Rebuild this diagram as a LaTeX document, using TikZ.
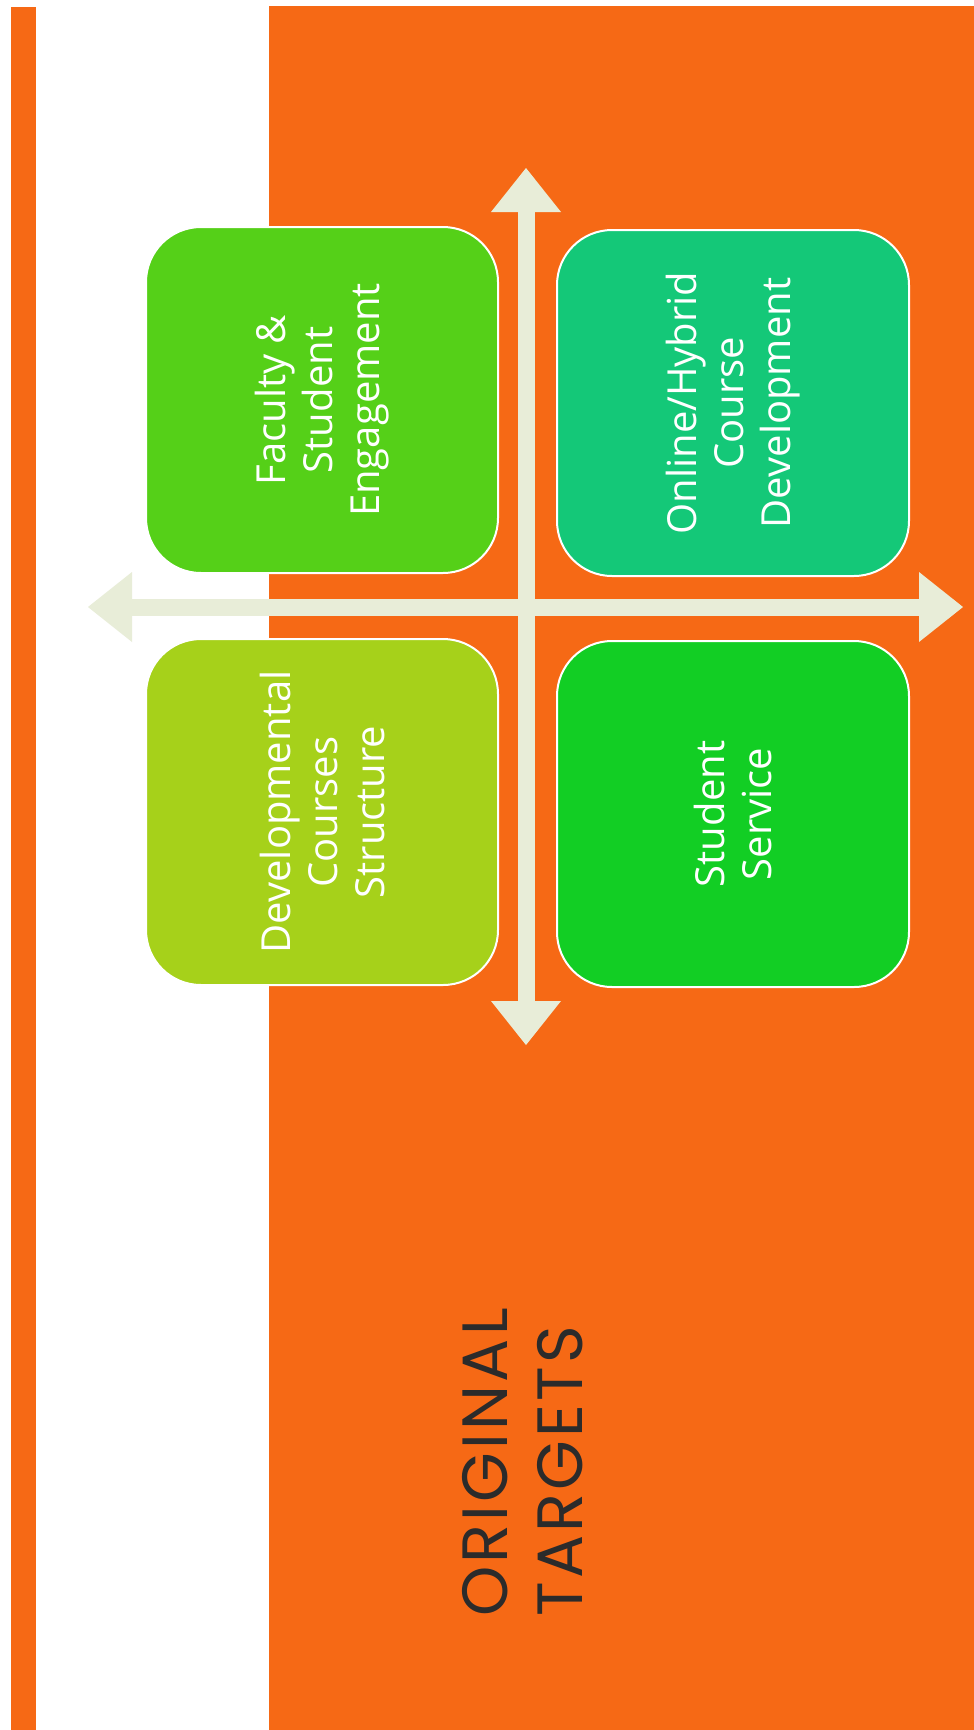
\documentclass[tikz,border=0pt]{standalone}
\usepackage{fontspec}
\setmainfont{Open Sans}
\newfontfamily\titlefont[LetterSpace=5]{Poppins}
\usetikzlibrary{arrows.meta,positioning}

\definecolor{slideorange}{HTML}{F66915}
\definecolor{axiscream}{HTML}{E8EDD8}
\definecolor{limegreen}{HTML}{A6D11A}
\definecolor{grassgreen}{HTML}{55D018}
\definecolor{puregreen}{HTML}{12CE24}
\definecolor{tealgreen}{HTML}{14C878}
\definecolor{titlegray}{HTML}{2B2B2B}

\begin{document}
\begin{tikzpicture}[x=1pt,y=-1pt,
    target/.style={rounded corners=55pt,draw=white,line width=2pt,text=white,
        rotate=90,minimum width=346pt,minimum height=352pt,inner sep=0pt,
        align=center,font=\fontsize{40}{47}\selectfont},
    axis/.style={axiscream,line width=17pt,
        {Triangle[width=70pt,length=44pt,line width=0pt]}-{Triangle[width=70pt,length=44pt,line width=0pt]}}]
    \useasboundingbox (0,0) rectangle (974,1730);

    % Background strips
    \fill[white] (0,0) rectangle (974,1730);
    \fill[slideorange] (11,7) rectangle (36,1730);
    \fill[slideorange] (269,6) rectangle (974,1730);

    % Target boxes
    \node[target,fill=grassgreen] (faculty) at (322,400) {Faculty \&\\Student\\Engagement};
    \node[target,fill=tealgreen] (online) at (733,403) {Online/Hybrid\\Course\\Development};
    \node[target,fill=limegreen] (develop) at (322,812) {Developmental\\Courses\\Structure};
    \node[target,fill=puregreen] (service) at (733,814) {Student\\Service};

    % Axis ends
    \coordinate (axtop) at (526,168);
    \coordinate (axbottom) at (526,1045);
    \coordinate (axleft) at (88,607);
    \coordinate (axright) at (963,607);

    % Axes
    \draw[axis] (axtop) -- (axbottom);
    \draw[axis] (axleft) -- (axright);

    % Title
    \node[rotate=90,anchor=north west,inner sep=0pt,align=left,text=titlegray,
        font=\titlefont\fontsize{64}{75}\selectfont] (title) at (462,1617) {ORIGINAL\\TARGETS};
\end{tikzpicture}
\end{document}
